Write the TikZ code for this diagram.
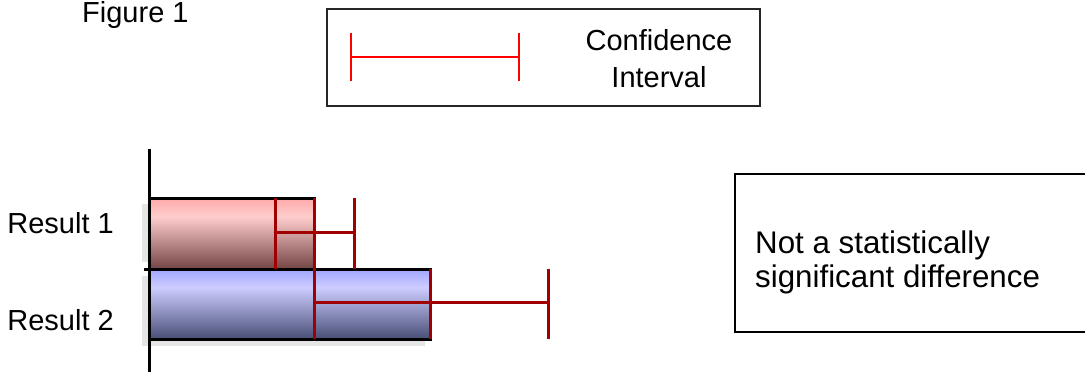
\documentclass[tikz,border=0pt]{standalone}
\usepackage{fontspec}
\setmainfont{Liberation Sans}
\definecolor{errred}{RGB}{160,0,0}
\definecolor{rtop}{RGB}{255,168,168}
\definecolor{rmid}{RGB}{255,205,205}
\definecolor{rbot}{RGB}{115,68,68}
\definecolor{btop}{RGB}{160,165,255}
\definecolor{bmid}{RGB}{205,205,255}
\definecolor{bbot}{RGB}{72,78,118}
\pgfdeclareverticalshading{redbar}{100bp}{color(0bp)=(rbot); color(25bp)=(rbot); color(62bp)=(rmid); color(75bp)=(rtop); color(100bp)=(rtop)}
\pgfdeclareverticalshading{bluebar}{100bp}{color(0bp)=(bbot); color(25bp)=(bbot); color(62bp)=(bmid); color(75bp)=(btop); color(100bp)=(btop)}
\begin{document}
\begin{tikzpicture}[x=1pt,y=-1pt,
  txt/.style={inner sep=0pt, font=\fontsize{29}{37}\selectfont},
  ax/.style={line width=3pt, draw=black},
  err/.style={line width=3pt, draw=errred},
  legerr/.style={line width=2pt, draw=red},
  barbox/.style={draw=black, line width=3pt, anchor=north west, inner sep=0pt, outer sep=0pt},
  shadow/.style={fill=black!10},
]
\clip (0,0) rectangle (1085,372);
% title
\node[txt, anchor=base west] (fig) at (82,23) {Figure 1};
% legend
\node[draw=black!85, line width=2pt, minimum width=433pt, minimum height=97pt, anchor=north west, inner sep=0pt, outer sep=0pt] (legend) at (327,9) {};
\coordinate (l1) at (351,57);
\coordinate (l2) at (519,57);
\coordinate (l1t) at (351,33);
\coordinate (l1b) at (351,81);
\coordinate (l2t) at (519,33);
\coordinate (l2b) at (519,81);
\draw[legerr] (l1) -- (l2);
\draw[legerr] (l1t) -- (l1b);
\draw[legerr] (l2t) -- (l2b);
\node[txt, align=center] (ci) at (659,58.5) {Confidence\\Interval};
% shadows
\fill[shadow] (142,204) rectangle (300,262);
\fill[shadow] (142,276) rectangle (425,346);
% bars
\node[barbox, shading=redbar, minimum width=165pt, minimum height=71pt] (b1) at (149,198) {};
\node[barbox, shading=bluebar, minimum width=281pt, minimum height=70pt] (b2) at (149,269) {};
% axis
\coordinate (axt) at (149,149);
\coordinate (axb) at (149,374);
\coordinate (tick) at (144,269);
\draw[ax] (axt) -- (axb);
\draw[ax] (tick) -- (b1.south west);
% red bar edges
\draw[err] (b1.north east) -- (b1.south east);
\draw[err] (b2.north east) -- (b2.south east);
% error bar 1
\coordinate (e1l) at (275,232);
\coordinate (e1r) at (354,232);
\coordinate (e1lt) at (275,198);
\coordinate (e1lb) at (275,269);
\coordinate (e1rt) at (354,198);
\coordinate (e1rb) at (354,269);
\draw[err] (e1l) -- (e1r);
\draw[err] (e1lt) -- (e1lb);
\draw[err] (e1rt) -- (e1rb);
% error bar 2
\coordinate (e2l) at (314,302);
\coordinate (e2r) at (548,302);
\coordinate (e2lt) at (314,269);
\coordinate (e2lb) at (314,339);
\coordinate (e2rt) at (548,269);
\coordinate (e2rb) at (548,339);
\draw[err] (e2l) -- (e2r);
\draw[err] (e2lt) -- (e2lb);
\draw[err] (e2rt) -- (e2rb);
% labels
\node[txt, anchor=base east] (r1) at (114,233) {Result 1};
\node[txt, anchor=base east] (r2) at (114,330) {Result 2};
% note box
\node[draw=black, line width=2.5pt, anchor=north west, minimum width=400pt, minimum height=158pt, inner sep=0pt, outer sep=0pt] (note) at (735,174) {};
\node[txt, font=\fontsize{31.3}{34}\selectfont, align=left, anchor=west] (notetxt) at (755,262) {Not a statistically\\significant difference};
\end{tikzpicture}
\end{document}
